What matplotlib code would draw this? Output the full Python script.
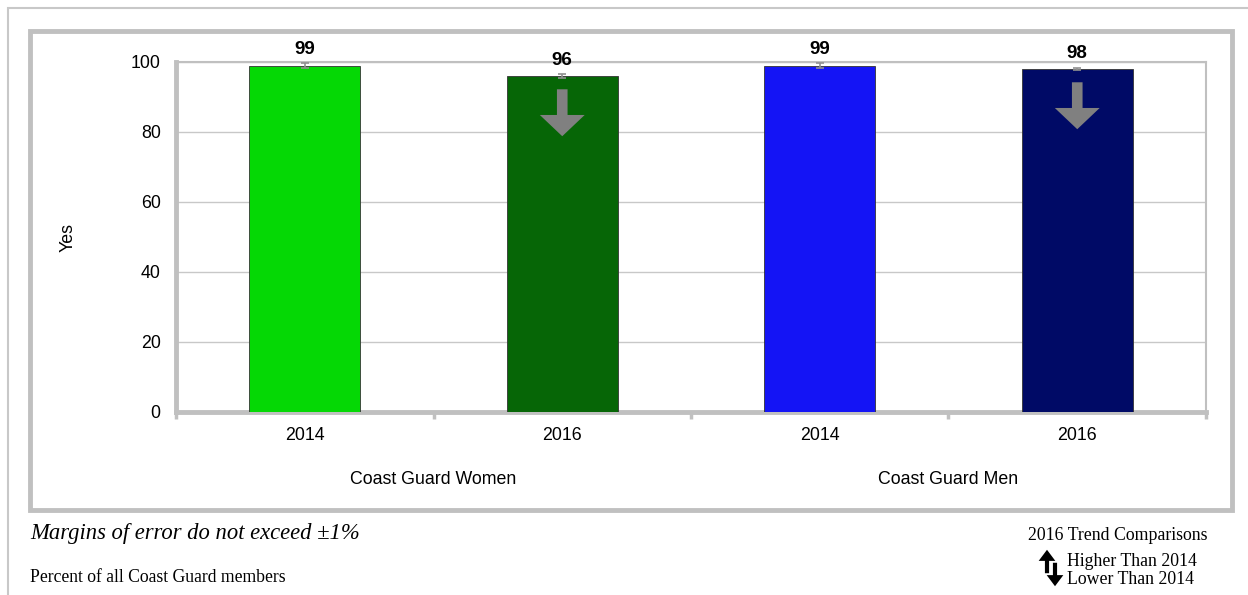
import matplotlib.pyplot as plt
from matplotlib.patches import Rectangle, FancyArrowPatch

# ========== Data ==========
years = ["2014", "2016", "2014", "2016"]
groups = ["Coast Guard Women", "Coast Guard Men"]
values = [99, 96, 99, 98]
errors = [0.6, 0.6, 0.6, 0.3]
lower_than_2014 = [False, True, False, True]
colors = ["#05D805", "#066606", "#1414F5", "#000A66"]

serif = "Liberation Serif"
sans = "Liberation Sans"
grey = "#C0C0C0"

fig = plt.figure(figsize=(12.48, 5.95), dpi=100)
W, H = 1248, 595


def px_rect(x0, y0, x1, y1, lw, color):
    # rectangle given in pixel coords from top-left
    fig.add_artist(Rectangle((x0 / W, 1 - y1 / H), (x1 - x0) / W, (y1 - y0) / H,
                             transform=fig.transFigure, fill=False, lw=lw, ec=color))


# outer thin frame and inner thick frame
px_rect(8, 8, 1260, 620, 1.5, "#C8C8C8")
px_rect(30, 31, 1232, 510, 3.5, grey)

ax = fig.add_axes([176 / W, 1 - 412 / H, (1206 - 176) / W, (412 - 62) / H])

x = list(range(len(values)))
ax.bar(x, values, width=0.43, color=colors, edgecolor="#333333", linewidth=0.6, zorder=3)
ax.errorbar(x, values, yerr=errors, fmt="none", ecolor="#909090", elinewidth=1.2,
            capsize=3, capthick=1.2, zorder=4)

for xi, v, low in zip(x, values, lower_than_2014):
    ax.text(xi, v + 2.0, str(v), ha="center", va="bottom", fontsize=13.5,
            fontweight="bold", family=sans)
    if low:
        arr = FancyArrowPatch((xi, v - 3), (xi, v - 18),
                              arrowstyle="simple,head_length=0.9,head_width=1.9,tail_width=0.45",
                              mutation_scale=17, color="#808080", lw=0, zorder=5)
        ax.add_patch(arr)

ax.set_xlim(-0.5, 3.5)
ax.set_ylim(0, 100)
ax.set_yticks(range(0, 101, 20))
ax.yaxis.grid(True, color="#C8C8C8", lw=1, zorder=0)
ax.set_axisbelow(True)
ax.set_xticks(x)
ax.set_xticklabels(years)
ax.set_xticks([-0.5, 0.5, 1.5, 2.5, 3.5], minor=True)
ax.tick_params(axis="x", which="major", length=0, pad=11)
ax.tick_params(axis="x", which="minor", length=5, width=2.5, color=grey, direction="out")
ax.tick_params(axis="y", length=0, pad=11)
for lab in ax.get_xticklabels() + ax.get_yticklabels():
    lab.set_family(sans)
    lab.set_fontsize(12.8)

for side in ["left", "bottom"]:
    ax.spines[side].set_color(grey)
    ax.spines[side].set_linewidth(3.5)
for side in ["top", "right"]:
    ax.spines[side].set_color(grey)
    ax.spines[side].set_linewidth(1.5)

ax.set_ylabel("Yes", family=sans, fontsize=12.8)
ax.yaxis.set_label_coords((77 - 176) / 1030, 0.5)

# group labels under the years
for gi, g in enumerate(groups):
    ax.text(gi * 2 + 0.5, -19.2, g, ha="center", va="center", fontsize=12.8, family=sans,
            transform=ax.transData, clip_on=False)

# footnotes
fig.text(30 / W, 1 - 533 / H, "Margins of error do not exceed \u00b11%", family=serif,
         style="italic", fontsize=16.3, va="center", ha="left")
fig.text(30 / W, 1 - 578 / H, "Percent of all Coast Guard members", family=serif,
         fontsize=12.7, va="center", ha="left")

# trend legend
fig.text(1208 / W, 1 - 536 / H, "2016 Trend Comparisons", family=serif, fontsize=12.8,
         va="center", ha="right")
fig.text(1067 / W, 1 - 562 / H, "Higher Than 2014", family=serif, fontsize=12.8,
         va="center", ha="left")
fig.text(1067 / W, 1 - 580 / H, "Lower Than 2014", family=serif, fontsize=12.8,
         va="center", ha="left")
up = FancyArrowPatch((1047 / W, 1 - 576 / H), (1047 / W, 1 - 547 / H), transform=fig.transFigure,
                     arrowstyle="simple,head_length=0.8,head_width=1.2,tail_width=0.3",
                     mutation_scale=10, color="black", lw=0)
down = FancyArrowPatch((1055 / W, 1 - 560 / H), (1055 / W, 1 - 589 / H), transform=fig.transFigure,
                       arrowstyle="simple,head_length=0.8,head_width=1.2,tail_width=0.3",
                       mutation_scale=10, color="black", lw=0)
fig.add_artist(up)
fig.add_artist(down)

fig.savefig("out.png", dpi=100)
